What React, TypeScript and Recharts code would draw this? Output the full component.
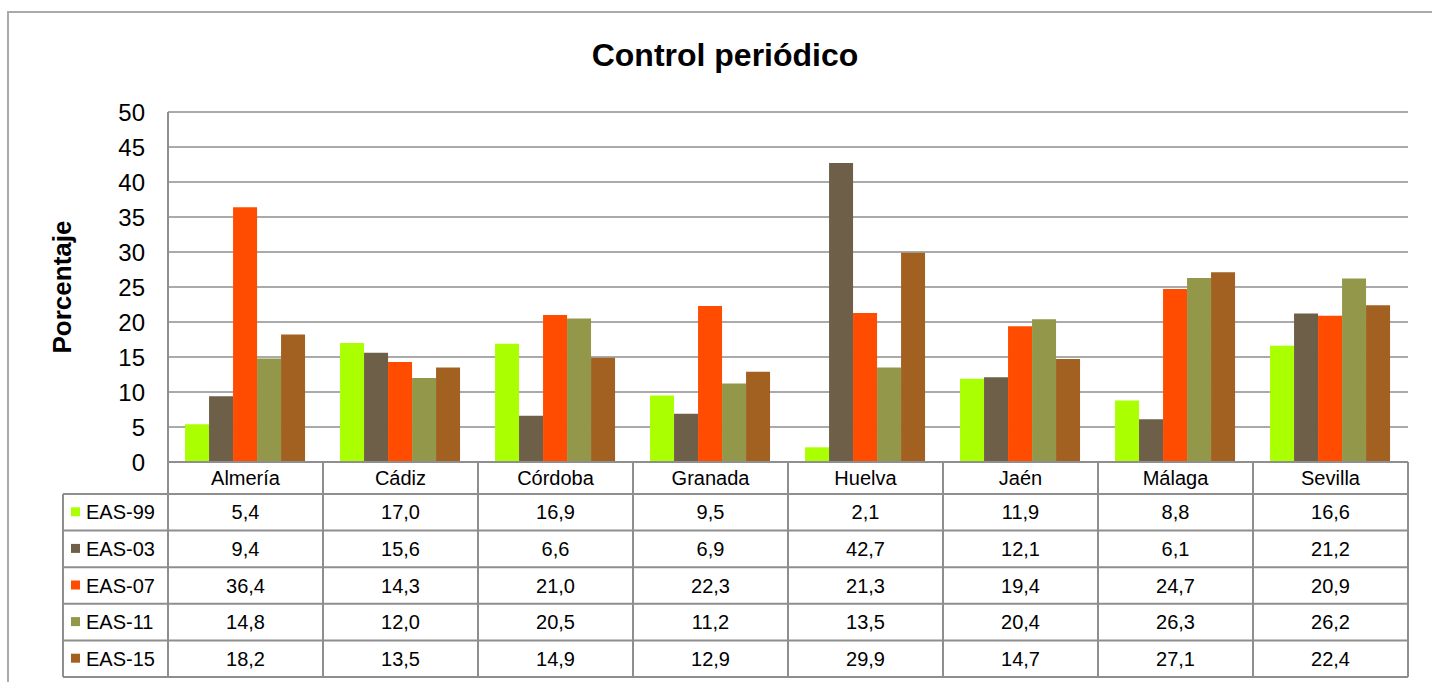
import React from 'react';
import { BarChart, Bar, XAxis, YAxis, CartesianGrid } from 'recharts';

const categories = ['Almería', 'Cádiz', 'Córdoba', 'Granada', 'Huelva', 'Jaén', 'Málaga', 'Sevilla'];
const eas99 = [5.4, 17.0, 16.9, 9.5, 2.1, 11.9, 8.8, 16.6];
const eas03 = [9.4, 15.6, 6.6, 6.9, 42.7, 12.1, 6.1, 21.2];
const eas07 = [36.4, 14.3, 21.0, 22.3, 21.3, 19.4, 24.7, 20.9];
const eas11 = [14.8, 12.0, 20.5, 11.2, 13.5, 20.4, 26.3, 26.2];
const eas15 = [18.2, 13.5, 14.9, 12.9, 29.9, 14.7, 27.1, 22.4];
const seriesKeys = ['EAS-99', 'EAS-03', 'EAS-07', 'EAS-11', 'EAS-15'];
const seriesValues = [eas99, eas03, eas07, eas11, eas15];
const seriesColors = ['#AAFF00', '#6E5F48', '#FF4C00', '#93974A', '#A36121'];
const yTicks = [0, 5, 10, 15, 20, 25, 30, 35, 40, 45, 50];

const data = categories.map((c, i) => {
  const row: Record<string, any> = { name: c };
  seriesKeys.forEach((k, s) => { row[k] = seriesValues[s][i]; });
  return row;
});

const W = 1432;
const H = 682;
const M = { top: 112, right: 24, left: 108, bottom: 0 };
const Y_AXIS_W = 60;
const X_AXIS_H = 220;
const PLOT_W = W - M.left - Y_AXIS_W - M.right;
const HEADER_H = 32;
const ROW_H = 36.6;
const LEGEND_X = 63;
const LINE = '#8e8e8e';
const FONT = '"Liberation Sans", Arial, sans-serif';

const fmt = (v: number) => v.toFixed(1).replace('.', ',');

function TableTick(props: any) {
  const { x, y, payload } = props;
  const i = payload.index;
  const band = PLOT_W / categories.length;
  const left = x - band / 2;
  const right = x + band / 2;
  const bottom = y + HEADER_H + seriesKeys.length * ROW_H;
  const rowsTop = y + HEADER_H;
  const hStart = i === 0 ? LEGEND_X : left;
  return (
    <g>
      <text x={x} y={y + HEADER_H / 2} textAnchor="middle" dominantBaseline="central"
        fontSize={20} fontFamily={FONT} fill="#000">{payload.value}</text>
      <line x1={right} y1={y} x2={right} y2={bottom} stroke={LINE} strokeWidth={2} />
      {i === 0 && <line x1={left} y1={y} x2={left} y2={bottom} stroke={LINE} strokeWidth={2} />}
      {i === 0 && <line x1={LEGEND_X} y1={rowsTop} x2={LEGEND_X} y2={bottom} stroke={LINE} strokeWidth={2} />}
      {seriesKeys.map((k, s) => (
        <line key={'h' + s} x1={hStart} y1={rowsTop + s * ROW_H} x2={right} y2={rowsTop + s * ROW_H}
          stroke={LINE} strokeWidth={2} />
      ))}
      <line x1={hStart} y1={bottom} x2={right} y2={bottom} stroke={LINE} strokeWidth={2} />
      {seriesKeys.map((k, s) => (
        <text key={'v' + s} x={x} y={rowsTop + (s + 0.5) * ROW_H} textAnchor="middle" dominantBaseline="central"
          fontSize={20} fontFamily={FONT} fill="#000">{fmt(seriesValues[s][i])}</text>
      ))}
      {i === 0 && seriesKeys.map((k, s) => (
        <g key={'l' + s}>
          <rect x={LEGEND_X + 8} y={rowsTop + (s + 0.5) * ROW_H - 5} width={9} height={9} fill={seriesColors[s]} />
          <text x={LEGEND_X + 23} y={rowsTop + (s + 0.5) * ROW_H} dominantBaseline="central"
            fontSize={20} fontFamily={FONT} fill="#000">{k}</text>
        </g>
      ))}
    </g>
  );
}

function YLabel(props: any) {
  const vb = props.viewBox;
  const cx = vb.x - 46;
  const cy = vb.y + vb.height / 2;
  return (
    <text x={cx} y={cy} transform={`rotate(-90, ${cx}, ${cy})`} textAnchor="middle" dominantBaseline="central"
      fontSize={26} fontWeight="bold" fontFamily={FONT} fill="#000">Porcentaje</text>
  );
}

export default function App() {
  return (
    <div style={{ position: 'absolute', left: 0, top: 0, width: W, height: H, overflow: 'hidden', background: '#fff' }}>
      <div style={{ position: 'absolute', left: 7, top: 11, width: W, height: H, borderTop: '2px solid #aaaaaa', borderLeft: '2px solid #aaaaaa' }} />
      <div style={{ position: 'absolute', left: 0, top: 39, width: 1450, textAlign: 'center', fontFamily: FONT, fontWeight: 'bold', fontSize: 32, lineHeight: 1, color: '#000' }}>
        Control periódico
      </div>
      <div style={{ position: 'absolute', left: 0, top: 0 }}>
        <BarChart width={W} height={H} data={data} margin={M} barCategoryGap="11%" barGap={0}>
          <CartesianGrid vertical={false} stroke={LINE} strokeWidth={1.5} />
          <XAxis dataKey="name" height={X_AXIS_H} interval={0} tickSize={0} tickMargin={0}
            axisLine={{ stroke: LINE, strokeWidth: 2 }} tickLine={false} tick={<TableTick />} />
          <YAxis width={Y_AXIS_W} domain={[0, 50]} ticks={yTicks} interval={0} tickSize={0} tickMargin={23}
            axisLine={{ stroke: LINE, strokeWidth: 2 }} tickLine={false}
            tick={{ fontSize: 24, fontFamily: FONT, fill: '#000' }}
            label={<YLabel />} />
          {seriesKeys.map((k, s) => (
            <Bar key={k} dataKey={k} fill={seriesColors[s]} isAnimationActive={false} />
          ))}
        </BarChart>
      </div>
    </div>
  );
}
